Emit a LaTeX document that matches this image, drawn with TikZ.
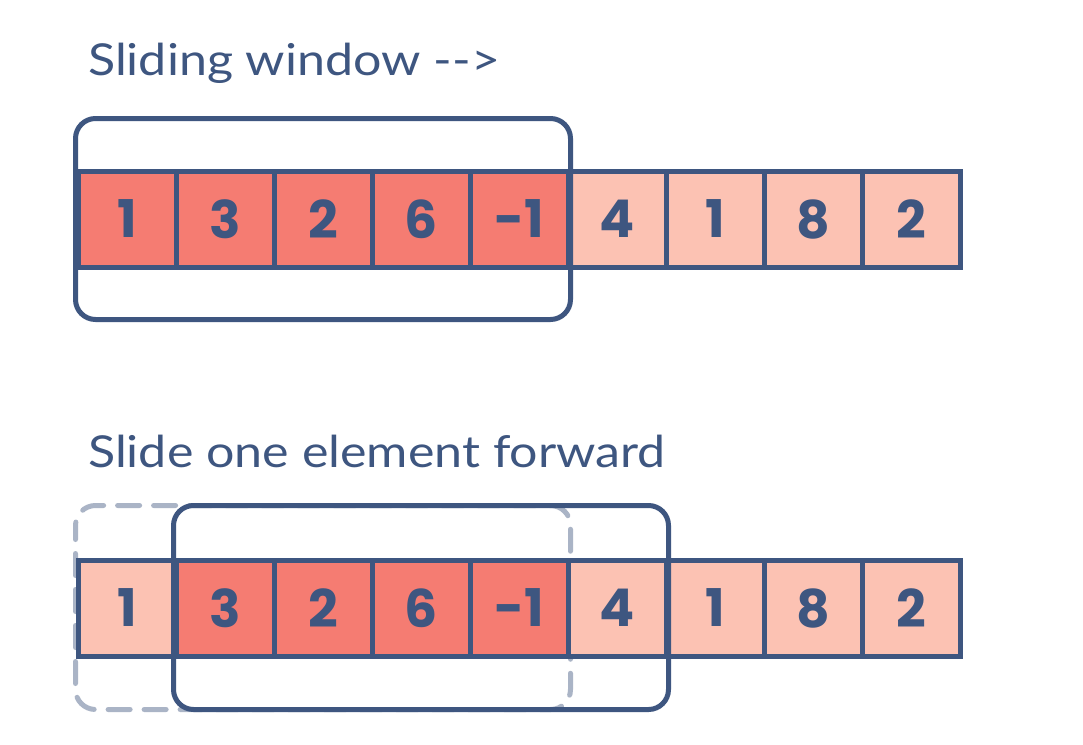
\documentclass[tikz,border=0pt]{standalone}
\usepackage{fontspec}
\usetikzlibrary{backgrounds}
\setmainfont{Lato}[FakeStretch=1.14]
\newfontfamily\numfont{Poppins}
\definecolor{ink}{HTML}{3E5680}
\definecolor{hot}{HTML}{F57C72}
\definecolor{cool}{HTML}{FCC2B3}
\definecolor{ghost}{HTML}{AAB4C6}
\begin{document}
\begin{tikzpicture}[x=1pt,y=-1pt,
  cell/.style={draw=ink,line width=5pt,minimum width=98pt,minimum height=96pt,inner sep=0pt,
    font=\numfont\bfseries\fontsize{52}{52}\selectfont,text=ink},
  hotcell/.style={cell,fill=hot},
  coolcell/.style={cell,fill=cool},
  window/.style={draw=ink,line width=5pt,rounded corners=20pt},
  ghostwin/.style={draw=ghost,line width=5pt,rounded corners=20pt,dash pattern=on 22pt off 14pt,dash phase=8pt,line cap=round},
  title/.style={anchor=base west,inner sep=0pt,text=ink,font=\fontsize{44}{44}\selectfont}]
\useasboundingbox (0,0) rectangle (1083,744);
\node[title] (t) at (88,75) {Sliding window {-}{-}>};
\node[title] (s) at (88,467) {Slide one element forward};
% top row
\foreach \v [count=\i] in {1,3,2,6,-1}{
  \node[hotcell] (t\i) at ({127+98*(\i-1)},219) {\v};}
\foreach \v [count=\i from 6] in {4,1,8,2}{
  \node[coolcell] (t\i) at ({127+98*(\i-1)},219) {\v};}
\draw[window] ([yshift=50pt]t1.north west) rectangle ([yshift=-50pt]t5.south east);
% bottom row
\foreach \v [count=\i] in {1}{
  \node[coolcell] (b\i) at ({127+98*(\i-1)},608) {\v};}
\foreach \v [count=\i from 2] in {3,2,6,-1}{
  \node[hotcell] (b\i) at ({127+98*(\i-1)},608) {\v};}
\foreach \v [count=\i from 6] in {4,1,8,2}{
  \node[coolcell] (b\i) at ({127+98*(\i-1)},608) {\v};}
\begin{scope}[on background layer]
\fill[white] (0,0) rectangle (1083,744);
\draw[ghostwin] ([yshift=52pt]b1.north west) rectangle ([yshift=-51pt]b5.south east);
\end{scope}
\draw[window] ([yshift=52pt]b2.north west) rectangle ([yshift=-51pt]b6.south east);
\end{tikzpicture}
\end{document}
